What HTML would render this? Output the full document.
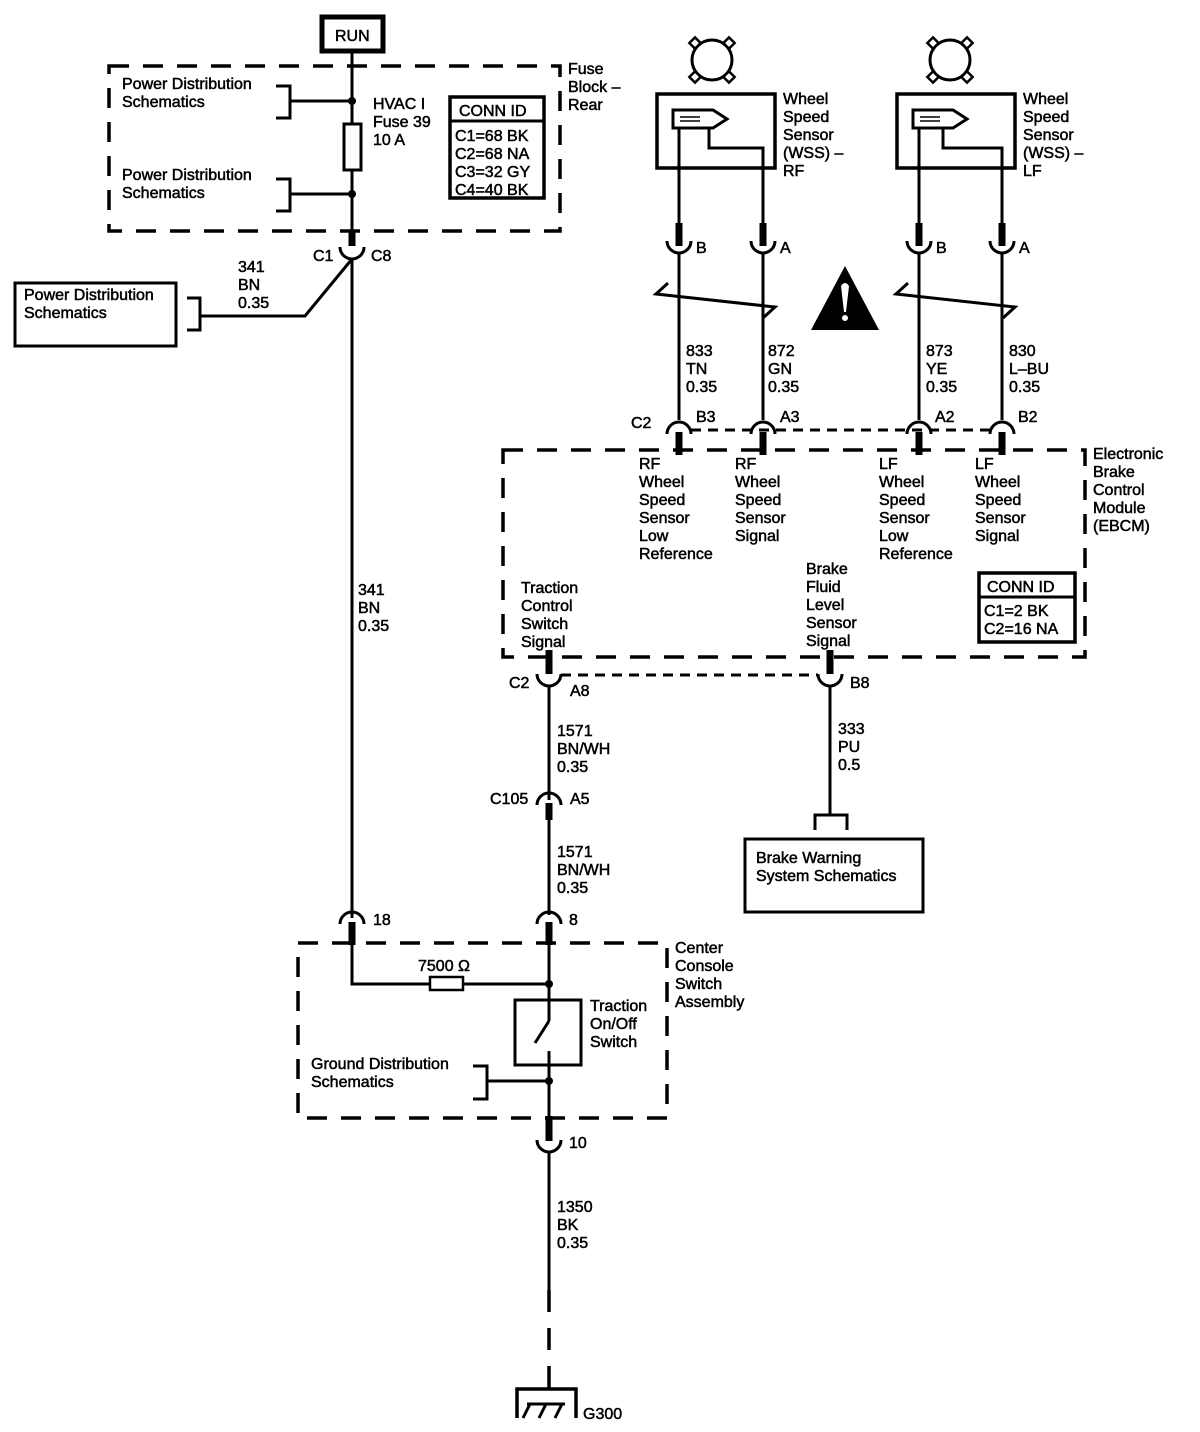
<!DOCTYPE html>
<html><head><meta charset="utf-8"><style>
html,body{margin:0;padding:0;background:#fff}
svg{display:block}
text{font-family:"Liberation Sans",Arial,sans-serif;font-size:16px;fill:#000;stroke:#000;stroke-width:0.5}
</style></head><body>
<svg width="1200" height="1432" viewBox="0 0 1200 1432" xmlns="http://www.w3.org/2000/svg">
<defs>
<g id="sensor">
 <circle cx="0" cy="0" r="20" fill="none" stroke="#000" stroke-width="3"/>
 <g fill="#fff" stroke="#000" stroke-width="2.5">
  <rect x="-4" y="-4" width="8" height="8" transform="translate(-17,-17) rotate(45)"/>
  <rect x="-4" y="-4" width="8" height="8" transform="translate(17,-17) rotate(45)"/>
  <rect x="-4" y="-4" width="8" height="8" transform="translate(-17,17) rotate(45)"/>
  <rect x="-4" y="-4" width="8" height="8" transform="translate(17,17) rotate(45)"/>
 </g>
</g>
</defs>
<g fill="none" stroke="#000">
<rect x="322" y="17" width="61" height="34" stroke-width="5"/>
<rect x="109" y="66" width="451" height="165" stroke-width="3.5" stroke-dasharray="20,14"/>
<line x1="352" y1="51" x2="352" y2="124" stroke-width="3"/>
<line x1="352" y1="170" x2="352" y2="232" stroke-width="3"/>
<rect x="344" y="124" width="17" height="46" stroke-width="3"/>
<path d="M276 86 H290 V118 H276 M290 101 H352" stroke-width="3"/>
<path d="M276 179 H290 V211 H276 M290 194 H352" stroke-width="3"/>
<rect x="450" y="97" width="94" height="101" stroke-width="3.5"/>
<line x1="450" y1="121" x2="544" y2="121" stroke-width="3"/>
<line x1="352" y1="231" x2="352" y2="246" stroke-width="7"/>
<path d="M340 247 A12 12 0 0 0 364 247" stroke-width="3"/>
<line x1="352" y1="259" x2="352" y2="918" stroke-width="3"/>
<path d="M352 259 L305 316 H200 M187 298 H200 V330 H187" stroke-width="3"/>
<rect x="15" y="283" width="161" height="63" stroke-width="3"/>

<use href="#sensor" x="712" y="60"/>
<use href="#sensor" x="950" y="60"/>
<rect x="657" y="94" width="118" height="74" stroke-width="3.5"/>
<rect x="897" y="94" width="118" height="74" stroke-width="3.5"/>
<path d="M673 110 H713 L727 119 L713 128 H673 Z" stroke-width="3"/>
<path d="M913 110 H953 L967 119 L953 128 H913 Z" stroke-width="3"/>
<path d="M679 128 V235 M709 128 V148 H763 V235" stroke-width="3"/>
<path d="M919 128 V235 M943 128 V148 H1002 V235" stroke-width="3"/>
<g stroke-width="7"><line x1="679" y1="223" x2="679" y2="246"/><line x1="763" y1="223" x2="763" y2="246"/><line x1="919" y1="223" x2="919" y2="246"/><line x1="1002" y1="223" x2="1002" y2="246"/></g>
<g stroke-width="3">
<path d="M667 241 A12 12 0 0 0 691 241"/><path d="M751 241 A12 12 0 0 0 775 241"/>
<path d="M907 241 A12 12 0 0 0 931 241"/><path d="M990 241 A12 12 0 0 0 1014 241"/>
<line x1="679" y1="252" x2="679" y2="420"/><line x1="763" y1="252" x2="763" y2="420"/>
<line x1="919" y1="252" x2="919" y2="420"/><line x1="1002" y1="252" x2="1002" y2="420"/>
<path d="M668 283 L656 294 L775 307 L763 318"/>
<path d="M908 283 L896 294 L1015 307 L1003 318"/>
<path d="M667 434 A12 12 0 0 1 691 434"/><path d="M751 434 A12 12 0 0 1 775 434"/>
<path d="M907 434 A12 12 0 0 1 931 434"/><path d="M990 434 A12 12 0 0 1 1014 434"/>
</g>
<line x1="691" y1="430" x2="990" y2="430" stroke-width="3" stroke-dasharray="10,7"/>
<g stroke-width="7"><line x1="679" y1="432" x2="679" y2="455"/><line x1="763" y1="432" x2="763" y2="455"/><line x1="919" y1="432" x2="919" y2="455"/><line x1="1002" y1="432" x2="1002" y2="455"/></g>
<rect x="503" y="450" width="582" height="207" stroke-width="3.5" stroke-dasharray="20,14"/>
<rect x="979" y="573" width="96" height="69" stroke-width="3.5"/>
<line x1="979" y1="597" x2="1075" y2="597" stroke-width="3"/>
<g stroke-width="7"><line x1="549" y1="650" x2="549" y2="674"/><line x1="830" y1="650" x2="830" y2="674"/></g>
<path d="M537 674 A12 12 0 0 0 561 674" stroke-width="3"/>
<path d="M818 674 A12 12 0 0 0 842 674" stroke-width="3"/>
<line x1="561" y1="675" x2="818" y2="675" stroke-width="3" stroke-dasharray="10,7"/>
<line x1="549" y1="686" x2="549" y2="800" stroke-width="3"/>
<path d="M537 805 A12 12 0 0 1 561 805" stroke-width="3"/>
<line x1="549" y1="803" x2="549" y2="820" stroke-width="7"/>
<line x1="549" y1="818" x2="549" y2="915" stroke-width="3"/>
<line x1="830" y1="686" x2="830" y2="815" stroke-width="3"/>
<path d="M815 830 V815 H847 V830" stroke-width="3"/>
<rect x="745" y="839" width="178" height="73" stroke-width="3"/>
<path d="M340 924 A12 12 0 0 1 364 924" stroke-width="3"/>
<path d="M537 924 A12 12 0 0 1 561 924" stroke-width="3"/>
<g stroke-width="7"><line x1="352" y1="922" x2="352" y2="945"/><line x1="549" y1="922" x2="549" y2="945"/></g>
<rect x="298" y="943" width="369" height="175" stroke-width="3.5" stroke-dasharray="20,14"/>
<path d="M352 944 V984 H430 M463 984 H549" stroke-width="3"/>
<rect x="430" y="977" width="33" height="13" stroke-width="2.5"/>
<line x1="549" y1="944" x2="549" y2="1021" stroke-width="3"/>
<line x1="549" y1="1021" x2="535" y2="1043" stroke-width="3"/>
<line x1="549" y1="1051" x2="549" y2="1140" stroke-width="3"/>
<rect x="515" y="1000" width="66" height="65" stroke-width="3"/>
<path d="M473 1066 H487 V1099 H473 M487 1081 H549" stroke-width="3"/>
<line x1="549" y1="1116" x2="549" y2="1141" stroke-width="7"/>
<path d="M537 1140 A12 12 0 0 0 561 1140" stroke-width="3"/>
<line x1="549" y1="1152" x2="549" y2="1290" stroke-width="3"/>
<line x1="549" y1="1290" x2="549" y2="1388" stroke-width="3.5" stroke-dasharray="22,16"/>
<path d="M517 1418 V1389 H576 V1418" stroke-width="3.5"/>
<path d="M530 1404 L523 1418 M546 1404 L539 1418 M562 1404 L555 1418 M527 1404 H565" stroke-width="3"/>
</g>
<g fill="#000">
<circle cx="352" cy="101" r="4"/><circle cx="352" cy="194" r="4"/>
<circle cx="549" cy="984" r="4"/><circle cx="549" cy="1081" r="4"/>
<path d="M845 266 L879 330 L811 330 Z"/>
</g>
<path d="M841 286 Q845 280 849 286 L846 312 H844 Z" fill="#fff"/>
<circle cx="845" cy="318" r="3" fill="#fff"/>
<g stroke="#000" stroke-width="1.5">
<line x1="680" y1="121" x2="700" y2="121"/><line x1="680" y1="117" x2="700" y2="117"/>
<line x1="920" y1="121" x2="940" y2="121"/><line x1="920" y1="117" x2="940" y2="117"/>
</g>

<text x="335" y="41">RUN</text>
<text x="122" y="89">Power Distribution</text><text x="122" y="107">Schematics</text>
<text x="122" y="180">Power Distribution</text><text x="122" y="198">Schematics</text>
<text x="373" y="109">HVAC I</text><text x="373" y="127">Fuse 39</text><text x="373" y="145">10 A</text>
<text x="459" y="116">CONN ID</text>
<text x="455" y="141">C1=68 BK</text><text x="455" y="159">C2=68 NA</text><text x="455" y="177">C3=32 GY</text><text x="455" y="195">C4=40 BK</text>
<text x="568" y="74">Fuse</text><text x="568" y="92">Block –</text><text x="568" y="110">Rear</text>
<text x="313" y="261">C1</text><text x="371" y="261">C8</text>
<text x="238" y="272">341</text><text x="238" y="290">BN</text><text x="238" y="308">0.35</text>
<text x="24" y="300">Power Distribution</text><text x="24" y="318">Schematics</text>
<text x="358" y="595">341</text><text x="358" y="613">BN</text><text x="358" y="631">0.35</text>

<text x="783" y="104">Wheel</text><text x="783" y="122">Speed</text><text x="783" y="140">Sensor</text><text x="783" y="158">(WSS) –</text><text x="783" y="176">RF</text>
<text x="1023" y="104">Wheel</text><text x="1023" y="122">Speed</text><text x="1023" y="140">Sensor</text><text x="1023" y="158">(WSS) –</text><text x="1023" y="176">LF</text>
<text x="696" y="253">B</text><text x="780" y="253">A</text><text x="936" y="253">B</text><text x="1019" y="253">A</text>
<text x="686" y="356">833</text><text x="686" y="374">TN</text><text x="686" y="392">0.35</text>
<text x="768" y="356">872</text><text x="768" y="374">GN</text><text x="768" y="392">0.35</text>
<text x="926" y="356">873</text><text x="926" y="374">YE</text><text x="926" y="392">0.35</text>
<text x="1009" y="356">830</text><text x="1009" y="374">L–BU</text><text x="1009" y="392">0.35</text>
<text x="631" y="428">C2</text><text x="696" y="422">B3</text><text x="780" y="422">A3</text><text x="935" y="422">A2</text><text x="1018" y="422">B2</text>

<text x="639" y="469">RF</text><text x="639" y="487">Wheel</text><text x="639" y="505">Speed</text><text x="639" y="523">Sensor</text><text x="639" y="541">Low</text><text x="639" y="559">Reference</text>
<text x="735" y="469">RF</text><text x="735" y="487">Wheel</text><text x="735" y="505">Speed</text><text x="735" y="523">Sensor</text><text x="735" y="541">Signal</text>
<text x="879" y="469">LF</text><text x="879" y="487">Wheel</text><text x="879" y="505">Speed</text><text x="879" y="523">Sensor</text><text x="879" y="541">Low</text><text x="879" y="559">Reference</text>
<text x="975" y="469">LF</text><text x="975" y="487">Wheel</text><text x="975" y="505">Speed</text><text x="975" y="523">Sensor</text><text x="975" y="541">Signal</text>
<text x="521" y="593">Traction</text><text x="521" y="611">Control</text><text x="521" y="629">Switch</text><text x="521" y="647">Signal</text>
<text x="806" y="574">Brake</text><text x="806" y="592">Fluid</text><text x="806" y="610">Level</text><text x="806" y="628">Sensor</text><text x="806" y="646">Signal</text>
<text x="987" y="592">CONN ID</text><text x="984" y="616">C1=2 BK</text><text x="984" y="634">C2=16 NA</text>
<text x="1093" y="459">Electronic</text><text x="1093" y="477">Brake</text><text x="1093" y="495">Control</text><text x="1093" y="513">Module</text><text x="1093" y="531">(EBCM)</text>

<text x="509" y="688">C2</text><text x="570" y="696">A8</text><text x="850" y="688">B8</text>
<text x="557" y="736">1571</text><text x="557" y="754">BN/WH</text><text x="557" y="772">0.35</text>
<text x="838" y="734">333</text><text x="838" y="752">PU</text><text x="838" y="770">0.5</text>
<text x="490" y="804">C105</text><text x="570" y="804">A5</text>
<text x="557" y="857">1571</text><text x="557" y="875">BN/WH</text><text x="557" y="893">0.35</text>
<text x="756" y="863">Brake Warning</text><text x="756" y="881">System Schematics</text>
<text x="373" y="925">18</text><text x="569" y="925">8</text>
<text x="418" y="971">7500 Ω</text>
<text x="675" y="953">Center</text><text x="675" y="971">Console</text><text x="675" y="989">Switch</text><text x="675" y="1007">Assembly</text>
<text x="590" y="1011">Traction</text><text x="590" y="1029">On/Off</text><text x="590" y="1047">Switch</text>
<text x="311" y="1069">Ground Distribution</text><text x="311" y="1087">Schematics</text>
<text x="569" y="1148">10</text>
<text x="557" y="1212">1350</text><text x="557" y="1230">BK</text><text x="557" y="1248">0.35</text>
<text x="583" y="1419">G300</text>
</svg>
</body></html>
